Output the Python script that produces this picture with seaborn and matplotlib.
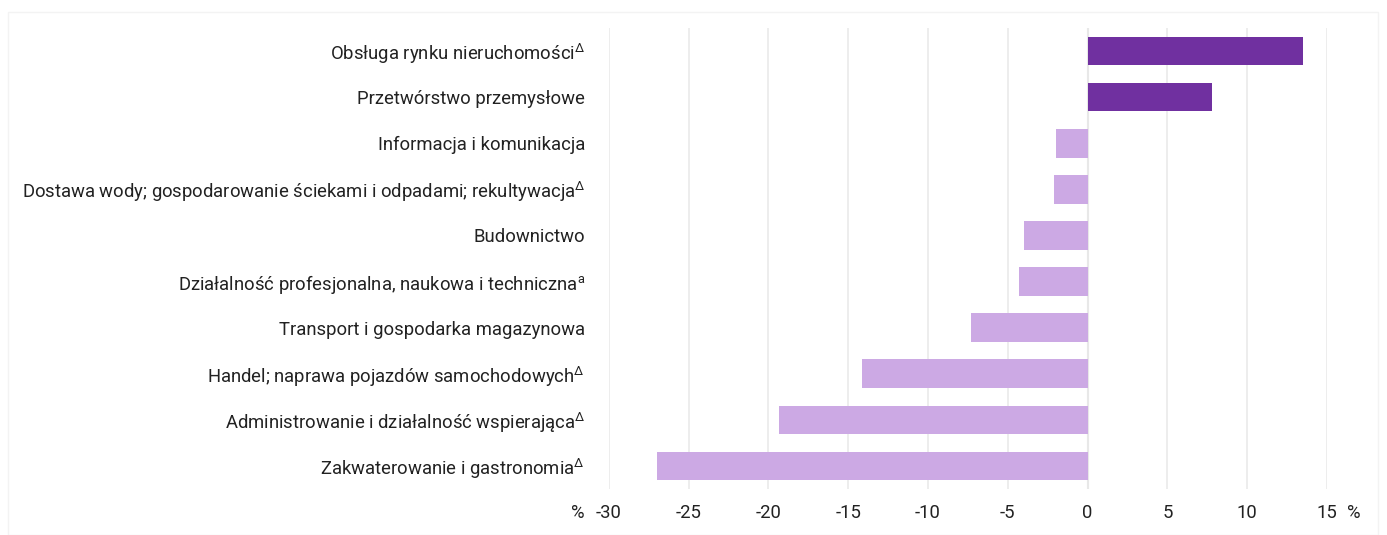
import numpy as np
import pandas as pd
import matplotlib
matplotlib.use('Agg')
import matplotlib.pyplot as plt
import matplotlib.transforms as mtransforms
from matplotlib.patches import Rectangle
import seaborn as sns

# Data
categories = [
    'Obsługa rynku nieruchomości$^{\\mathrm{Δ}}$',
    'Przetwórstwo przemysłowe',
    'Informacja i komunikacja',
    'Dostawa wody; gospodarowanie ściekami i odpadami; rekultywacja$^{\\mathrm{Δ}}$',
    'Budownictwo',
    'Działalność profesjonalna, naukowa i techniczna$^{\\mathrm{a}}$',
    'Transport i gospodarka magazynowa',
    'Handel; naprawa pojazdów samochodowych$^{\\mathrm{Δ}}$',
    'Administrowanie i działalność wspierająca$^{\\mathrm{Δ}}$',
    'Zakwaterowanie i gastronomia$^{\\mathrm{Δ}}$',
]
values = [13.5, 7.8, -2.0, -2.1, -4.0, -4.3, -7.3, -14.1, -19.3, -27.0]
x_ticks = [-30, -25, -20, -15, -10, -5, 0, 5, 10, 15]

DARK = '#7030A0'
LIGHT = '#CCA9E4'
FS = 13.3
XPAD = 11

sns.set_theme(style='white')
plt.rcParams['font.family'] = ['Roboto', 'DejaVu Sans']
plt.rcParams['mathtext.fontset'] = 'custom'
plt.rcParams['mathtext.rm'] = 'Roboto'

df = pd.DataFrame({'category': categories, 'value': values})
df['kind'] = np.where(df['value'] > 0, 'pos', 'neg')

fig = plt.figure(figsize=(13.87, 5.35), dpi=100)
ax = fig.add_axes([608.7 / 1387, 1 - 489 / 535, (1327 - 608.7) / 1387, (489 - 28) / 535])

sns.barplot(data=df, x='value', y='category', hue='kind',
            palette={'pos': DARK, 'neg': LIGHT}, width=0.62, saturation=1,
            edgecolor='none', legend=False, ax=ax)

ax.set_xlim(-30, 15)
ax.set_ylim(9.5, -0.5)
ax.set_xticks(x_ticks)
ax.set_xticklabels([str(t) for t in x_ticks])
ax.xaxis.grid(True, color='#EAEAEA', linewidth=1.2)
ax.set_axisbelow(True)
for s in ax.spines.values():
    s.set_visible(False)
ax.set_xlabel('')
ax.set_ylabel('')
ax.tick_params(axis='x', length=0, pad=XPAD, labelsize=FS, colors='#222222')
ax.tick_params(axis='y', length=0, pad=17, labelsize=FS, colors='#222222')

# zero line
ax.axvline(0, color='#E4E4E4', linewidth=1.5, zorder=0.5)

# percent labels beside the axis ends, aligned with the tick labels
trans = mtransforms.blended_transform_factory(fig.transFigure, ax.transAxes)
y_lab = -(XPAD * 100 / 72) / (489 - 28)
ax.text(578 / 1387, y_lab, '%', transform=trans, ha='center', va='top',
        fontsize=FS, color='#222222')
ax.text(1354 / 1387, y_lab, '%', transform=trans, ha='center', va='top',
        fontsize=FS, color='#222222')

# faint frame around the chart
fig.patches.append(Rectangle((8 / 1387, 0), (1378 - 8) / 1387, 1 - 12 / 535,
                             transform=fig.transFigure, fill=False,
                             edgecolor='#F3F3F3', linewidth=1))

fig.savefig('out.png', dpi=100)
